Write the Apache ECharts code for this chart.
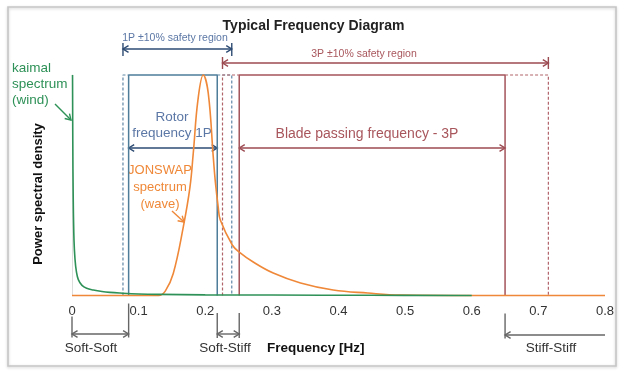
<!DOCTYPE html>
<html lang="en">
<head>
  <meta charset="UTF-8" />
  <title>Typical Frequency Diagram</title>
  <style>
    * { padding: 0; margin: 0; }
    html, body { width: 100%; height: 100%; background: #fff; }
    #chart { width: 627px; height: 374px; }
  </style>
</head>
<body>
  <div id="chart"></div>
  <script src="https://cdn.jsdelivr.net/npm/echarts@6/dist/echarts.min.js"></script>
  <script>
    // spectra: [frequency Hz, relative density]
    var kaimalSpectrum = [
      [0.0008, 1.0], [0.0012, 0.7], [0.0018, 0.45], [0.003, 0.25], [0.0045, 0.165],
      [0.0065, 0.11], [0.0095, 0.072], [0.015, 0.046], [0.022, 0.033], [0.032, 0.025],
      [0.045, 0.018], [0.057, 0.014], [0.072, 0.011], [0.1, 0.007], [0.13, 0.005],
      [0.2, 0.003], [0.3, 0.002], [0.45, 0.001], [0.6, 0]
    ]
    var jonswapSpectrum = [
      [0, 0], [0.13, 0], [0.14, 0.02], [0.152, 0.1], [0.167, 0.31], [0.177, 0.49],
      [0.182, 0.645], [0.189, 0.886], [0.197, 1.0], [0.2045, 0.918], [0.212, 0.63],
      [0.215, 0.52], [0.2195, 0.4], [0.2226, 0.342], [0.2406, 0.229], [0.251, 0.197],
      [0.272, 0.152], [0.302, 0.102], [0.343, 0.057], [0.392, 0.025], [0.444, 0.011],
      [0.493, 0.002], [0.6, 0], [0.8, 0]
    ]
    var band1P = [0.085, 0.218]
    var band3P = [0.251, 0.65]
    var safetyMargin = 0.1
    var freqRange = [0, 0.8]

    var font = '"Liberation Sans", Arial, sans-serif'
    var c = {
      green: '#2e9157', orange: '#ef8838',
      blue: '#4d7d99', blueDash: '#5f87a6', navy: '#2d4b73', blueText: '#5b77a5',
      red: '#a4545b', redDash: '#b0646a', redArrow: '#9c4a51', redText: '#a8565c',
      grey: '#666'
    }

    var safe1P = [band1P[0] * (1 - safetyMargin), band1P[1] * (1 + safetyMargin)]
    var safe3P = [band3P[0] * (1 - safetyMargin), band3P[1] * (1 + safetyMargin)]

    function boxSeries(pts, color, dashed) {
      return {
        type: 'line', data: pts, symbol: 'none', clip: false, silent: true,
        lineStyle: { color: color, width: dashed ? 1.2 : 1.5, type: dashed ? [3, 2] : 'solid' }
      }
    }

    var chart = echarts.init(document.getElementById('chart'))
    chart.setOption({
      animation: false,
      title: {
        text: 'Typical Frequency Diagram', left: 'center', top: 14,
        textStyle: { fontSize: 14, fontWeight: 'bold', color: '#222', fontFamily: font }
      },
      grid: { left: 72, right: 22, top: 75, bottom: 78.5 },
      xAxis: {
        type: 'value', min: freqRange[0], max: freqRange[1], interval: 0.1,
        axisLine: { show: false }, axisTick: { show: false }, splitLine: { show: false },
        axisLabel: { fontSize: 13, color: '#333', margin: 9, fontFamily: font }
      },
      yAxis: {
        type: 'value', min: 0, max: 1,
        axisLine: { show: true, lineStyle: { color: '#dedede' } },
        axisTick: { show: false }, axisLabel: { show: false }, splitLine: { show: false }
      },
      series: [
        boxSeries([[band1P[0], 0], [band1P[0], 1], [band1P[1], 1], [band1P[1], 0]], c.blue),
        boxSeries([[safe1P[0], 0], [safe1P[0], 1], [band1P[0], 1]], c.blueDash, true),
        boxSeries([[band1P[1], 1], [safe1P[1], 1], [safe1P[1], 0]], c.blueDash, true),
        boxSeries([[band3P[0], 0], [band3P[0], 1], [band3P[1], 1], [band3P[1], 0]], c.red),
        boxSeries([[safe3P[0], 0], [safe3P[0], 1], [band3P[0], 1]], c.redDash, true),
        boxSeries([[band3P[1], 1], [safe3P[1], 1], [safe3P[1], 0]], c.redDash, true),
        {
          name: 'JONSWAP', type: 'line', data: jonswapSpectrum, symbol: 'none', clip: false,
          smooth: 0.4, lineStyle: { color: c.orange, width: 1.6 }
        },
        {
          name: 'kaimal', type: 'line', data: kaimalSpectrum, symbol: 'none', clip: false,
          smooth: 0.4, lineStyle: { color: c.green, width: 1.6 }
        }
      ]
    })

    function px(f) { return chart.convertToPixel({ gridIndex: 0 }, [f, 0])[0] }

    function seg(x1, y1, x2, y2, color) {
      return { type: 'line', silent: true, shape: { x1: x1, y1: y1, x2: x2, y2: y2 },
        style: { stroke: color, lineWidth: 1.4 } }
    }

    function head(x, y, ang, color) {
      var L = 6.5, w = 0.55
      return { type: 'polyline', silent: true,
        shape: { points: [[x - L * Math.cos(ang - w), y - L * Math.sin(ang - w)], [x, y],
          [x - L * Math.cos(ang + w), y - L * Math.sin(ang + w)]] },
        style: { stroke: color, lineWidth: 1.4, fill: null } }
    }

    // horizontal arrow between two frequencies, heads / end bars optional
    function hArrow(f1, f2, y, color, o) {
      var x1 = px(f1), x2 = px(f2), els = [seg(x1, y, x2, y, color)]
      if (o.left) els.push(head(x1, y, Math.PI, color))
      if (o.right) els.push(head(x2, y, 0, color))
      if (o.bars) {
        els.push(seg(x1, y - o.bars[0], x1, y + o.bars[1], color))
        els.push(seg(x2, y - o.bars[0], x2, y + o.bars[1], color))
      }
      return els
    }

    function pointer(x1, y1, x2, y2, color) {
      return [seg(x1, y1, x2, y2, color), head(x2, y2, Math.atan2(y2 - y1, x2 - x1), color)]
    }

    function label(text, x, y, color, size, opt) {
      opt = opt || {}
      return { type: 'text', silent: true, rotation: opt.rotation || 0, x: x, y: y,
        style: { text: text, x: 0, y: 0, fill: color,
          font: (opt.bold ? 'bold ' : '') + size + 'px ' + font,
          align: opt.align || 'center', textAlign: opt.align || 'center',
          verticalAlign: 'middle', textVerticalAlign: 'middle', lineHeight: opt.lh || size * 1.2 } }
    }

    var base = chart.convertToPixel({ gridIndex: 0 }, [0, 0])[1]
    var g = [
      { type: 'rect', silent: true, z: -10, shape: { x: 8, y: 7, width: 608, height: 359 },
        style: { fill: 'none', stroke: '#c6c6c6', lineWidth: 1.6, shadowBlur: 3, shadowColor: 'rgba(0,0,0,0.2)', shadowOffsetY: 1 } },
      label('Power spectral density', 38, 194, '#111', 13, { bold: true, rotation: Math.PI / 2 }),
      label('1P \u00b110% safety region', 175, 38, c.blueText, 10.5),
      label('3P \u00b110% safety region', 364, 54, c.redText, 10.5),
      label('Rotor\nfrequency 1P', 172, 125, c.blueText, 13.5, { lh: 16 }),
      label('Blade passing frequency - 3P', 367, 134, c.redText, 14),
      label('JONSWAP\nspectrum\n(wave)', 160, 187, c.orange, 13, { lh: 17 }),
      label('kaimal\nspectrum\n(wind)', 12, 84, c.green, 13.5, { align: 'left', lh: 16 }),
      label('Soft-Soft', 91, 348, '#333', 13.5),
      label('Soft-Stiff', 225, 348, '#333', 13.5),
      label('Stiff-Stiff', 551, 348, '#333', 13.5),
      label('Frequency [Hz]', 267, 348, '#111', 13.5, { bold: true, align: 'left' })
    ]
    g = g.concat(
      hArrow(safe1P[0], safe1P[1], 49, c.navy, { left: true, right: true, bars: [6, 7] }),
      hArrow(safe3P[0], safe3P[1], 63, c.redArrow, { left: true, right: true, bars: [6, 6] }),
      hArrow(band1P[0], band1P[1], 148, c.navy, { left: true, right: true }),
      hArrow(band3P[0], band3P[1], 148, c.redArrow, { left: true, right: true }),
      pointer(55, 104, 71, 120, c.green),
      pointer(172, 211, 184, 222, c.orange),
      // stiffness classes under the axis
      hArrow(0, band1P[0], 334, c.grey, { left: true, right: true }),
      [seg(px(0), base + 21, px(0), base + 42, c.grey), seg(px(band1P[0]), base + 8, px(band1P[0]), base + 42, c.grey)],
      hArrow(band1P[1], band3P[0], 334, c.grey, { left: true, right: true, bars: [21, 4] }),
      hArrow(band3P[1], freqRange[1], 335, c.grey, { left: true }),
      [seg(px(band3P[1]), base + 18, px(band3P[1]), base + 43, c.grey)]
    )
    chart.setOption({ graphic: g })
  </script>
</body>
</html>
